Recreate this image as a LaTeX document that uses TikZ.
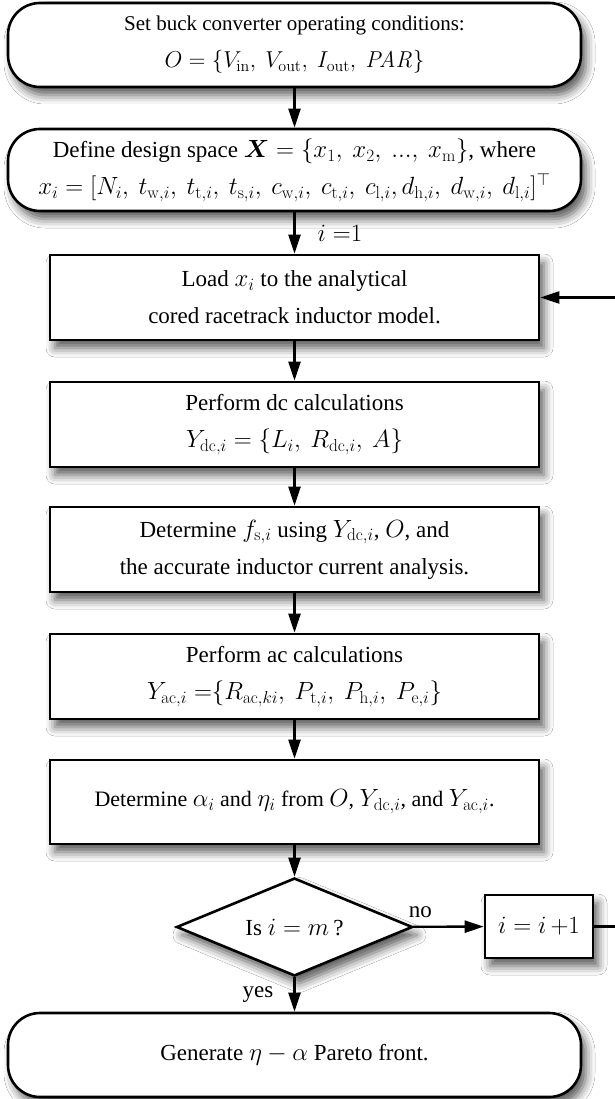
\RequirePackage{fix-cm}
\documentclass[tikz,border=0pt]{standalone}
\usepackage{amsmath,amssymb}
\usepackage[no-math]{fontspec}
\setmainfont{Liberation Serif}
\DeclareMathSizes{21}{23}{16}{12.5}
\DeclareMathSizes{22}{24.88}{17.28}{14.4}
\DeclareMathSizes{23}{24.88}{17.28}{14.4}
\usetikzlibrary{shapes.geometric,arrows.meta,shadows.blur}
\newcommand{\cs}{,\mkern4mu}
\tikzset{
  shad/.style={blur shadow={shadow xshift=5pt,shadow yshift=-8pt,shadow blur radius=9pt,shadow opacity=65}},
  procbox/.style={draw,line width=2.6pt,fill=white,shad,minimum width=489pt,minimum height=85pt,align=center,inner sep=0pt},
  termbox/.style={draw,line width=2.6pt,fill=white,shad,rounded corners=32pt,minimum width=573pt,minimum height=84pt,align=center,inner sep=0pt},
  decbox/.style={draw,line width=2.6pt,fill=white,shad,diamond,aspect=2.4,minimum width=236pt,minimum height=98pt,inner sep=0pt},
  flow/.style={line width=2.4pt,-{Triangle[length=19pt,width=12pt]}},
  lbl/.style={inner sep=0pt}
}
\begin{document}
\begin{tikzpicture}[x=1pt,y=-1pt,font=\fontsize{23}{37}\selectfont]
\useasboundingbox (0,0) rectangle (615,1099);
\fill[white] (0,0) rectangle (615,1099);
\node[termbox,font=\fontsize{21}{37}\selectfont] (b1) at (294.5,45) {Set buck converter operating conditions:\\ $O = \{V_{\mathrm{in}},\ V_{\mathrm{out}},\ I_{\mathrm{out}},\ \mathit{PAR}\}$};
\node[termbox,minimum height=82pt] (b2) at (294.5,170) {Define design space $\boldsymbol{X} = \{x_{1},\ x_{2},\ \mathrm{...},\ x_{\mathrm{m}}\}$, where\\ $x_{i} = [N_{i}\cs t_{\mathrm{w},i}\cs t_{\mathrm{t},i}\cs t_{\mathrm{s},i}\cs c_{\mathrm{w},i}\cs c_{\mathrm{t},i}\cs c_{\mathrm{l},i}, d_{\mathrm{h},i}\cs d_{\mathrm{w},i}\cs d_{\mathrm{l},i}]^{\top}$};
\node[procbox] (load) at (294.5,297.5) {Load $x_{i}$ to the analytical\\ cored racetrack inductor model.};
\node[procbox] (dc) at (294.5,424.5) {Perform dc calculations\\ $Y_{\mathrm{dc},i} = \{L_{i}\cs R_{\mathrm{dc},i}\cs A\}$};
\node[procbox] (detf) at (294.5,549.5) {Determine $f_{\mathrm{s},i}$ using $Y_{\mathrm{dc},i}$, $O$, and\\ the accurate inductor current analysis.};
\node[procbox] (ac) at (294.5,676.5) {Perform ac calculations\\ $Y_{\mathrm{ac},i}\;{=}\{R_{\mathrm{ac},ki}\cs P_{\mathrm{t},i}\cs P_{\mathrm{h},i}\cs P_{\mathrm{e},i}\}$};
\node[procbox,minimum height=84pt,font=\fontsize{22}{37}\selectfont] (deta) at (294.5,802) {Determine $\alpha_{i}$ and $\eta_{i}$ from $O$, $Y_{\mathrm{dc},i}$, and $Y_{\mathrm{ac},i}$.};
\node[decbox] (dec) at (294.5,927) {Is $i = m\,$?};
\node[draw,line width=2.6pt,fill=white,shad,minimum width=108pt,minimum height=63pt,inner sep=0pt] (inc) at (539,926.5) {$i = i\,{+}1$};
\node[termbox] (fin) at (294.5,1055) {Generate $\eta - \alpha$ Pareto front.};
\coordinate (c1) at (617,926.5);
\coordinate (c2) at (617,297.5);
\draw[flow] (b1) -- (b2);
\draw[flow] (b2) -- node[lbl,right=22pt] (l1) {$i\;{=}1$} (load);
\draw[flow] (load) -- (dc);
\draw[flow] (dc) -- (detf);
\draw[flow] (detf) -- (ac);
\draw[flow] (ac) -- (deta);
\draw[flow] (deta) -- (dec);
\draw[flow] (dec) -- node[lbl,above=8pt,pos=0.1] (lno) {no} (inc);
\draw[flow] (dec) -- node[lbl,left=20pt] (lyes) {yes} (fin);
\draw[flow] (inc.east) -- (c1) -- (c2) -- (load.east);
\end{tikzpicture}
\end{document}
